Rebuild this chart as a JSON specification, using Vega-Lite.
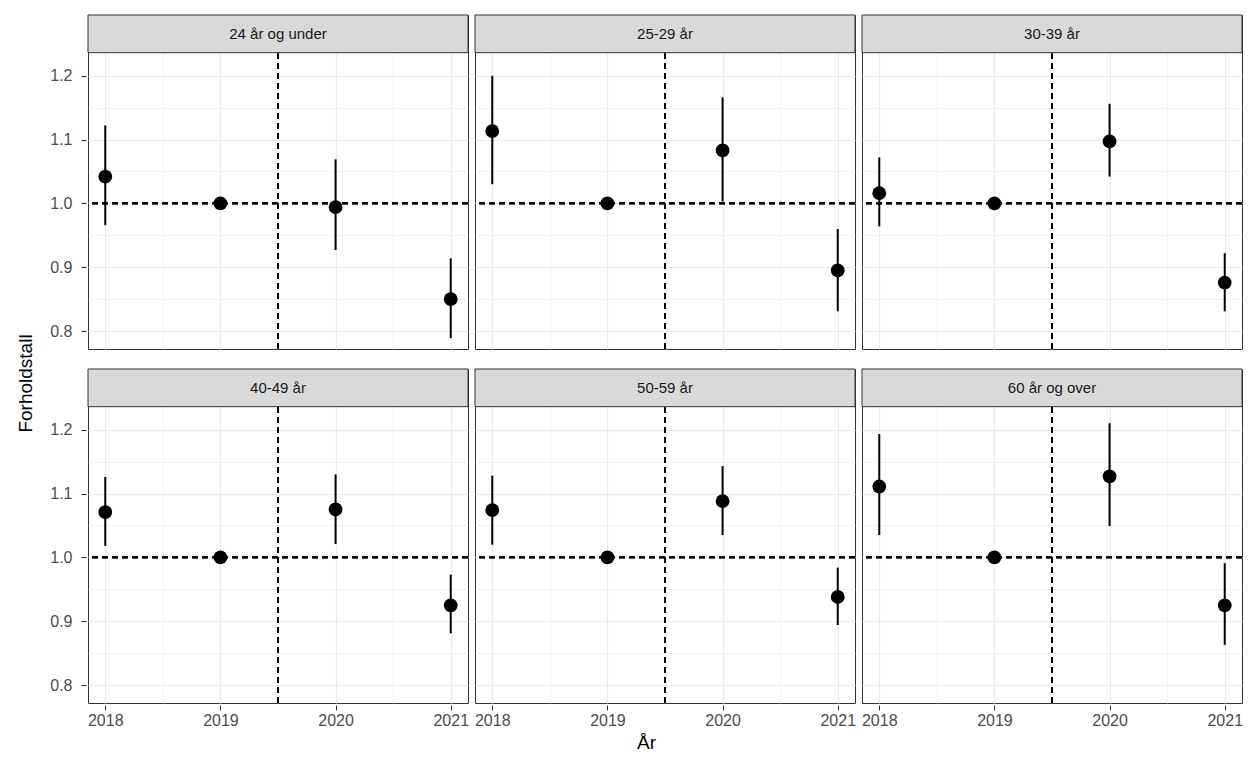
{
  "$schema": "https://vega.github.io/schema/vega-lite/v6.json",
  "background": "white",
  "padding": {"left": 16, "top": 14, "right": 2, "bottom": 2},
  "config": {
    "font": "Liberation Sans",
    "view": {"stroke": "#333333", "strokeWidth": 1},
    "axis": {"labelFontSize": 16, "labelColor": "#4d4d4d", "tickColor": "#333333", "tickSize": 5, "domain": false, "titleFontSize": 19, "titleFontWeight": "normal", "titleColor": "#000000", "gridColor": "#ebebeb"},
    "axisY": {"labelPadding": 9}
  },
  "title": {"text": "Forholdstall", "orient": "left", "fontSize": 19, "fontWeight": "normal", "offset": 14, "anchor": "middle"},
  "datasets": {
    "rows": [
      {"panel": "24 år og under", "row": 1, "year": 2018, "value": 1.042, "lo": 0.966, "hi": 1.122},
      {"panel": "24 år og under", "row": 1, "year": 2019, "value": 1.0, "lo": 1.0, "hi": 1.0},
      {"panel": "24 år og under", "row": 1, "year": 2020, "value": 0.994, "lo": 0.927, "hi": 1.069},
      {"panel": "24 år og under", "row": 1, "year": 2021, "value": 0.85, "lo": 0.789, "hi": 0.914},
      {"panel": "25-29 år", "row": 1, "year": 2018, "value": 1.113, "lo": 1.03, "hi": 1.2},
      {"panel": "25-29 år", "row": 1, "year": 2019, "value": 1.0, "lo": 1.0, "hi": 1.0},
      {"panel": "25-29 år", "row": 1, "year": 2020, "value": 1.083, "lo": 1.003, "hi": 1.166},
      {"panel": "25-29 år", "row": 1, "year": 2021, "value": 0.895, "lo": 0.831, "hi": 0.96},
      {"panel": "30-39 år", "row": 1, "year": 2018, "value": 1.016, "lo": 0.964, "hi": 1.072},
      {"panel": "30-39 år", "row": 1, "year": 2019, "value": 1.0, "lo": 1.0, "hi": 1.0},
      {"panel": "30-39 år", "row": 1, "year": 2020, "value": 1.097, "lo": 1.042, "hi": 1.156},
      {"panel": "30-39 år", "row": 1, "year": 2021, "value": 0.876, "lo": 0.831, "hi": 0.922},
      {"panel": "40-49 år", "row": 2, "year": 2018, "value": 1.071, "lo": 1.018, "hi": 1.126},
      {"panel": "40-49 år", "row": 2, "year": 2019, "value": 1.0, "lo": 1.0, "hi": 1.0},
      {"panel": "40-49 år", "row": 2, "year": 2020, "value": 1.075, "lo": 1.021, "hi": 1.13},
      {"panel": "40-49 år", "row": 2, "year": 2021, "value": 0.925, "lo": 0.881, "hi": 0.973},
      {"panel": "50-59 år", "row": 2, "year": 2018, "value": 1.074, "lo": 1.02, "hi": 1.128},
      {"panel": "50-59 år", "row": 2, "year": 2019, "value": 1.0, "lo": 1.0, "hi": 1.0},
      {"panel": "50-59 år", "row": 2, "year": 2020, "value": 1.088, "lo": 1.035, "hi": 1.143},
      {"panel": "50-59 år", "row": 2, "year": 2021, "value": 0.938, "lo": 0.894, "hi": 0.984},
      {"panel": "60 år og over", "row": 2, "year": 2018, "value": 1.111, "lo": 1.035, "hi": 1.193},
      {"panel": "60 år og over", "row": 2, "year": 2019, "value": 1.0, "lo": 1.0, "hi": 1.0},
      {"panel": "60 år og over", "row": 2, "year": 2020, "value": 1.127, "lo": 1.049, "hi": 1.21},
      {"panel": "60 år og over", "row": 2, "year": 2021, "value": 0.925, "lo": 0.863, "hi": 0.991}
    ]
  },
  "data": {"name": "rows"},
  "vconcat": [
    {
      "title": {"text": "År", "orient": "bottom", "fontSize": 19, "fontWeight": "normal", "offset": 6, "anchor": "middle"},
      "spacing": 17,
      "vconcat": [
        {
          "transform": [{"filter": "datum.row == 1"}],
          "facet": {"column": {"field": "panel", "type": "nominal", "sort": ["24 år og under", "25-29 år", "30-39 år"], "header": null}},
          "spacing": {"column": 3},
          "spec": {
            "width": 380,
            "height": 334,
            "layer": [
              {
                "mark": {"type": "rule", "strokeWidth": 2, "color": "black"},
                "encoding": {
                  "x": {"field": "year", "type": "quantitative", "scale": {"domain": [2017.85, 2021.15], "nice": false, "zero": false},
                    "axis": {"values": [2017.5, 2018, 2018.5, 2019, 2019.5, 2020, 2020.5, 2021], "labels": false, "ticks": false, "title": null,
                      "gridWidth": {"condition": {"test": "datum.value % 1 == 0", "value": 1.2}, "value": 0.6}}},
                  "y": {"field": "lo", "type": "quantitative", "scale": {"domain": [0.772, 1.295], "nice": false, "zero": false},
                    "axis": {"values": [0.75, 0.8, 0.85, 0.9, 0.95, 1.0, 1.05, 1.1, 1.15, 1.2], "title": null,
                      "labelExpr": "abs(round(datum.value*10) - datum.value*10) < 0.01 ? format(datum.value, '.1f') : ''",
                      "tickOpacity": {"condition": {"test": "abs(round(datum.value*10) - datum.value*10) < 0.01", "value": 1}, "value": 0},
                      "gridWidth": {"condition": {"test": "abs(round(datum.value*10) - datum.value*10) < 0.01", "value": 1.2}, "value": 0.6}}},
                  "y2": {"field": "hi"}
                }
              },
              {
                "mark": {"type": "rule", "strokeWidth": 1.6, "strokeDash": [6, 4], "color": "black"},
                "encoding": {"y": {"datum": 1.0}}
              },
              {
                "mark": {"type": "rule", "strokeWidth": 1.6, "strokeDash": [6, 4], "color": "black"},
                "encoding": {"x": {"datum": 2019.5}, "y": {"datum": 0.772}, "y2": {"datum": 1.236}}
              },
              {
                "mark": {"type": "point", "filled": true, "size": 190, "color": "black", "opacity": 1},
                "encoding": {"x": {"field": "year", "type": "quantitative"}, "y": {"field": "value", "type": "quantitative"}}
              },
              {
                "transform": [{"filter": "datum.year == 2019"}],
                "mark": {"type": "rect", "fill": "#d9d9d9", "stroke": "#333333", "strokeWidth": 1},
                "encoding": {"x": {"datum": 2017.85}, "x2": {"datum": 2021.15}, "y": {"datum": 1.236}, "y2": {"datum": 1.295}}
              },
              {
                "transform": [{"filter": "datum.year == 2019"}],
                "mark": {"type": "text", "fontSize": 15, "color": "#1a1a1a", "baseline": "middle"},
                "encoding": {"x": {"datum": 2019.5}, "y": {"datum": 1.2655}, "text": {"field": "panel"}}
              }
            ]
          }
        },
        {
          "transform": [{"filter": "datum.row == 2"}],
          "facet": {"column": {"field": "panel", "type": "nominal", "sort": ["40-49 år", "50-59 år", "60 år og over"], "header": null}},
          "spacing": {"column": 3},
          "spec": {
            "width": 380,
            "height": 334,
            "layer": [
              {
                "mark": {"type": "rule", "strokeWidth": 2, "color": "black"},
                "encoding": {
                  "x": {"field": "year", "type": "quantitative", "scale": {"domain": [2017.85, 2021.15], "nice": false, "zero": false},
                    "axis": {"values": [2017.5, 2018, 2018.5, 2019, 2019.5, 2020, 2020.5, 2021], "title": null, "labelPadding": 2,
                      "labelExpr": "datum.value % 1 == 0 ? format(datum.value, 'd') : ''",
                      "tickOpacity": {"condition": {"test": "datum.value % 1 == 0", "value": 1}, "value": 0},
                      "gridWidth": {"condition": {"test": "datum.value % 1 == 0", "value": 1.2}, "value": 0.6}}},
                  "y": {"field": "lo", "type": "quantitative", "scale": {"domain": [0.772, 1.295], "nice": false, "zero": false},
                    "axis": {"values": [0.75, 0.8, 0.85, 0.9, 0.95, 1.0, 1.05, 1.1, 1.15, 1.2], "title": null,
                      "labelExpr": "abs(round(datum.value*10) - datum.value*10) < 0.01 ? format(datum.value, '.1f') : ''",
                      "tickOpacity": {"condition": {"test": "abs(round(datum.value*10) - datum.value*10) < 0.01", "value": 1}, "value": 0},
                      "gridWidth": {"condition": {"test": "abs(round(datum.value*10) - datum.value*10) < 0.01", "value": 1.2}, "value": 0.6}}},
                  "y2": {"field": "hi"}
                }
              },
              {
                "mark": {"type": "rule", "strokeWidth": 1.6, "strokeDash": [6, 4], "color": "black"},
                "encoding": {"y": {"datum": 1.0}}
              },
              {
                "mark": {"type": "rule", "strokeWidth": 1.6, "strokeDash": [6, 4], "color": "black"},
                "encoding": {"x": {"datum": 2019.5}, "y": {"datum": 0.772}, "y2": {"datum": 1.236}}
              },
              {
                "mark": {"type": "point", "filled": true, "size": 190, "color": "black", "opacity": 1},
                "encoding": {"x": {"field": "year", "type": "quantitative"}, "y": {"field": "value", "type": "quantitative"}}
              },
              {
                "transform": [{"filter": "datum.year == 2019"}],
                "mark": {"type": "rect", "fill": "#d9d9d9", "stroke": "#333333", "strokeWidth": 1},
                "encoding": {"x": {"datum": 2017.85}, "x2": {"datum": 2021.15}, "y": {"datum": 1.236}, "y2": {"datum": 1.295}}
              },
              {
                "transform": [{"filter": "datum.year == 2019"}],
                "mark": {"type": "text", "fontSize": 15, "color": "#1a1a1a", "baseline": "middle"},
                "encoding": {"x": {"datum": 2019.5}, "y": {"datum": 1.2655}, "text": {"field": "panel"}}
              }
            ]
          }
        }
      ]
    }
  ]
}
